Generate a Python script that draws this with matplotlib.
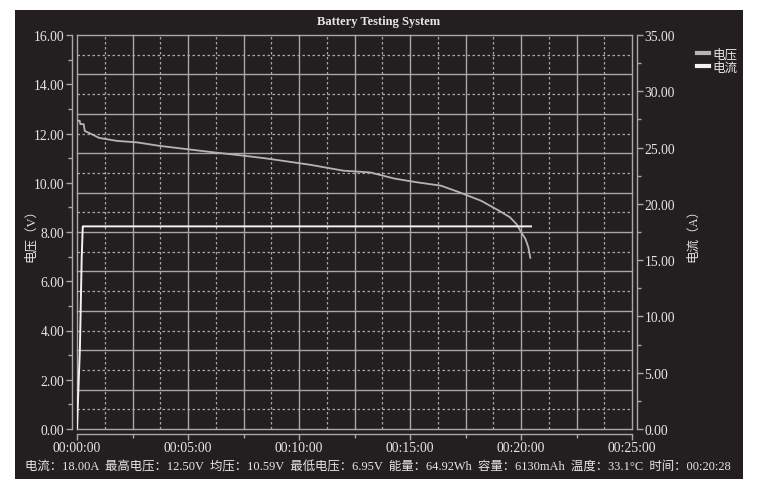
import matplotlib
matplotlib.use('Agg')
import matplotlib.pyplot as plt
from matplotlib.ticker import MultipleLocator, FuncFormatter
from matplotlib.lines import Line2D
from matplotlib.patches import Rectangle
import numpy as np

# ======================== DATA ========================
# time in minutes
volt_t = [0.0, 0.12, 0.15, 0.30, 0.35, 0.60, 1.00, 1.80, 2.70, 3.70, 4.90, 6.10,
          7.50, 8.50, 9.20, 10.50, 12.00, 13.20, 14.30, 15.30, 16.40, 17.20,
          18.20, 19.00, 19.50, 19.80, 20.00, 20.20, 20.33, 20.42]
volt_v = [12.52, 12.52, 12.38, 12.38, 12.10, 12.00, 11.82, 11.70, 11.64, 11.50,
          11.37, 11.24, 11.10, 10.99, 10.90, 10.73, 10.49, 10.42, 10.17, 10.02,
          9.88, 9.62, 9.27, 8.87, 8.60, 8.32, 8.00, 7.72, 7.38, 6.95]

cur_t = [0.0, 0.03, 0.13, 0.21, 0.26, 0.30, 20.45]
cur_a = [0.0, 1.8, 7.1, 15.1, 18.0, 18.0, 18.0]

x_ticks = [0, 5, 10, 15, 20, 25]
status = ('电流：18.00A  最高电压：12.50V  均压：10.59V  最低电压：6.95V  '
          '能量：64.92Wh  容量：6130mAh  温度：33.1°C  时间：00:20:28')

# ======================== STYLE ========================
BG = '#231f20'
GRID = '#a8a8a8'
TXT = '#e6e6e6'
FONT = ['Liberation Serif', 'Noto Sans CJK SC']
plt.rcParams['font.family'] = FONT

fig = plt.figure(figsize=(7.63, 4.85), dpi=100, facecolor='white')
# dark panel behind everything
fig.patches.append(Rectangle((15 / 763, 1 - 480 / 485), 728 / 763, 469 / 485,
                             transform=fig.transFigure, facecolor=BG,
                             edgecolor='none', zorder=-10))

ax = fig.add_axes([77 / 763, 1 - 430 / 485, 555 / 763, 394 / 485])
ax.set_facecolor(BG)
ax2 = ax.twinx()
ax.set_zorder(1)
ax2.set_zorder(2)

ax.set_xlim(0, 25)
ax.set_ylim(0, 16)
ax2.set_ylim(0, 35)

# grid: 10 solid divisions, dotted in between (not tied to the ticks)
for i, f in enumerate(np.linspace(0, 1, 21)):
    style = '-' if i % 2 == 0 else (0, (2, 2))
    ax.plot([f, f], [0, 1], transform=ax.transAxes, color=GRID,
            lw=1.0 if i % 2 == 0 else 0.9, ls=style, clip_on=False, zorder=1)
    ax.plot([0, 1], [f, f], transform=ax.transAxes, color=GRID,
            lw=1.0 if i % 2 == 0 else 0.9, ls=style, clip_on=False, zorder=1)

# ======================== LINES ========================
lv, = ax.plot(volt_t, volt_v, color='#b4b4b4', lw=1.3, zorder=3)
la, = ax2.plot(cur_t, cur_a, color='#f2f2f2', lw=1.4, zorder=3)

# ======================== AXES ========================
for a in (ax, ax2):
    for s in a.spines.values():
        s.set_visible(False)
ax.spines['left'].set_visible(True)
ax.spines['bottom'].set_visible(True)
ax2.spines['right'].set_visible(True)
ax.spines['left'].set_position(('outward', 3.5))
ax.spines['bottom'].set_position(('outward', 3.5))
ax2.spines['right'].set_position(('outward', 3.5))
for s in (ax.spines['left'], ax.spines['bottom'], ax2.spines['right']):
    s.set_color(GRID)
    s.set_linewidth(1.0)

ax.set_xticks(x_ticks)
ax.xaxis.set_minor_locator(MultipleLocator(2.5))
ax.xaxis.set_major_formatter(FuncFormatter(
    lambda v, p: '%02d:%02d:%02d' % (int(v) // 60, int(v) % 60, 0)))
ax.yaxis.set_major_locator(MultipleLocator(2))
ax.yaxis.set_minor_locator(MultipleLocator(1))
ax.yaxis.set_major_formatter(FuncFormatter(lambda v, p: '%.2f' % v))
ax2.yaxis.set_major_locator(MultipleLocator(5))
ax2.yaxis.set_minor_locator(MultipleLocator(2.5))
ax2.yaxis.set_major_formatter(FuncFormatter(lambda v, p: '%.2f' % v))

for a in (ax, ax2):
    a.tick_params(which='major', length=4, width=1, color=GRID,
                  labelcolor=TXT, labelsize=9.8, direction='out', pad=1.5)
    a.tick_params(which='minor', length=3, width=1, color=GRID, direction='out')

ax.set_ylabel('电压（V）', color=TXT, fontsize=9)
ax.yaxis.set_label_coords(-40 / 555, 0.5)
ax2.set_ylabel('电流（A）', color=TXT, fontsize=9, rotation=90)
ax2.yaxis.set_label_coords(1 + 55 / 555, 0.5)

fig.text(379 / 763, 1 - 22 / 485, 'Battery Testing System', color=TXT,
         fontsize=9, fontweight='bold', ha='center', va='center')
fig.text(378 / 763, 1 - 468 / 485, status, color=TXT, fontsize=8.95,
         ha='center', va='center')

handles = [Line2D([], [], color='#b4b4b4', lw=3), Line2D([], [], color='#f2f2f2', lw=3)]
leg = fig.legend(handles, ['电压', '电流'], loc='upper left',
                 bbox_to_anchor=(691 / 763, 1 - 43 / 485), frameon=False,
                 handlelength=0.9, handletextpad=0.3, labelspacing=0.05,
                 fontsize=9, borderpad=0)
for t in leg.get_texts():
    t.set_color(TXT)

fig.savefig('out.png', dpi=100, facecolor='white')
